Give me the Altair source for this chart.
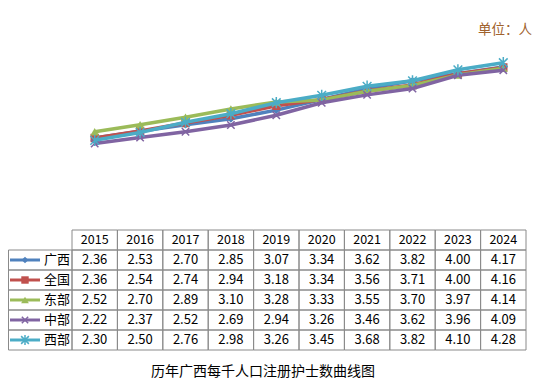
import altair as alt
import pandas as pd

years = [2015, 2016, 2017, 2018, 2019, 2020, 2021, 2022, 2023, 2024]
series = ["广西", "全国", "东部", "中部", "西部"]
guangxi = [2.36, 2.53, 2.70, 2.85, 3.07, 3.34, 3.62, 3.82, 4.00, 4.17]
quanguo = [2.36, 2.54, 2.74, 2.94, 3.18, 3.34, 3.56, 3.71, 4.00, 4.16]
dongbu = [2.52, 2.70, 2.89, 3.10, 3.28, 3.33, 3.55, 3.70, 3.97, 4.14]
zhongbu = [2.22, 2.37, 2.52, 2.69, 2.94, 3.26, 3.46, 3.62, 3.96, 4.09]
xibu = [2.30, 2.50, 2.76, 2.98, 3.26, 3.45, 3.68, 3.82, 4.10, 4.28]
all_values = [guangxi, quanguo, dongbu, zhongbu, xibu]

colors = ["#4F81BD", "#C0504D", "#9BBB59", "#8064A2", "#4BACC6"]
X_PATH = "M-1,-1L1,1M-1,1L1,-1"
AST_PATH = "M-1,-1L1,1M-1,1L1,-1M0,-1.3L0,1.3"
shapes = ["diamond", "square", "triangle-up", X_PATH, AST_PATH]
filled = [True, True, True, False, False]
sizes = [45, 55, 60, 40, 60]

title_text = "历年广西每千人口注册护士数曲线图"
unit_text = "单位：人"

FONT = "Noto Sans CJK SC"
GRID = "#8a8a8a"

rows = []
for i, (s, vals) in enumerate(zip(series, all_values)):
    for y, v in zip(years, vals):
        rows.append({"series": s, "year": y, "value": v, "row": i + 1})
df = pd.DataFrame(rows)

cells = pd.DataFrame([{"row": r, "year": y} for r in range(6) for y in years])
label_rows = pd.DataFrame({"series": series, "row": list(range(1, 6))})
header = pd.DataFrame({"year": years, "row": [0] * len(years)})

XS = alt.Scale(domain=[2014.5, 2024.5], range=[64, 518], nice=False, zero=False)
YV = alt.Scale(domain=[0, 5], range=[222.5, 26.5], nice=False, zero=False)
YT = alt.Scale(domain=[0, 6], range=[222, 342], nice=False, zero=False)

layers = []

# grid cells for years
layers.append(
    alt.Chart(cells)
    .transform_calculate(x0="datum.year - 0.5", x1="datum.year + 0.5",
                         r0="datum.row", r1="datum.row + 1")
    .mark_rect(fillOpacity=0, stroke=GRID, strokeWidth=1)
    .encode(x=alt.X("x0:Q", scale=XS, axis=None), x2="x1:Q",
            y=alt.Y("r0:Q", scale=YT, axis=None), y2="r1:Q")
)
# label column cells
layers.append(
    alt.Chart(label_rows)
    .transform_calculate(r0="datum.row", r1="datum.row + 1")
    .mark_rect(fillOpacity=0, stroke=GRID, strokeWidth=1)
    .encode(x=alt.value(0.5), x2=alt.value(64),
            y=alt.Y("r0:Q", scale=YT, axis=None), y2="r1:Q")
)
# header text
layers.append(
    alt.Chart(header)
    .transform_calculate(rc="datum.row + 0.5")
    .mark_text(font=FONT, fontSize=12.5, baseline="middle", color="#000")
    .encode(x=alt.X("year:Q", scale=XS, axis=None),
            y=alt.Y("rc:Q", scale=YT, axis=None), text="year:N")
)
# value text
layers.append(
    alt.Chart(df)
    .transform_calculate(rc="datum.row + 0.5")
    .mark_text(font=FONT, fontSize=13, baseline="middle", color="#000")
    .encode(x=alt.X("year:Q", scale=XS, axis=None),
            y=alt.Y("rc:Q", scale=YT, axis=None),
            text=alt.Text("value:Q", format=".2f"))
)
# row labels
layers.append(
    alt.Chart(label_rows)
    .transform_calculate(rc="datum.row + 0.5")
    .mark_text(font=FONT, fontSize=13, baseline="middle", align="center", color="#000")
    .encode(x=alt.value(49), y=alt.Y("rc:Q", scale=YT, axis=None), text="series:N")
)
# legend keys inside table
for i, s in enumerate(series):
    key = label_rows[label_rows.series == s]
    base = alt.Chart(key).transform_calculate(rc="datum.row + 0.5")
    layers.append(
        base.mark_rule(color=colors[i], strokeWidth=3)
        .encode(x=alt.value(2), x2=alt.value(32), y=alt.Y("rc:Q", scale=YT, axis=None))
    )
    layers.append(
        base.mark_point(shape=shapes[i], filled=filled[i], color=colors[i],
                        size=sizes[i], opacity=1, strokeWidth=1.5 if not filled[i] else 1)
        .encode(x=alt.value(17), y=alt.Y("rc:Q", scale=YT, axis=None))
    )

# series lines and markers
for i, s in enumerate(series):
    base = alt.Chart(df[df.series == s]).encode(
        x=alt.X("year:Q", scale=XS, axis=None),
        y=alt.Y("value:Q", scale=YV, axis=None),
    )
    layers.append(base.mark_line(color=colors[i], strokeWidth=3.5))
    layers.append(
        base.mark_point(shape=shapes[i], filled=filled[i], color=colors[i],
                        size=sizes[i] + 15, opacity=1,
                        strokeWidth=1.5 if not filled[i] else 1)
    )

# unit label
layers.append(
    alt.Chart(pd.DataFrame({"t": [unit_text]}))
    .mark_text(font=FONT, fontSize=13.5, align="center", baseline="middle", color="#A0622D")
    .encode(x=alt.value(497), y=alt.value(22), text="t:N")
)
# bottom title
layers.append(
    alt.Chart(pd.DataFrame({"t": [title_text]}))
    .mark_text(font=FONT, fontSize=14, align="center", baseline="middle", color="#000")
    .encode(x=alt.value(255), y=alt.value(364), text="t:N")
)

chart = (
    alt.layer(*layers)
    .resolve_scale(y="independent")
    .properties(width=543, height=373, autosize=alt.AutoSizeParams(type="none"), padding=0)
    .configure_view(stroke=None)
)

chart.save("out.html", embed_options={"renderer": "svg", "actions": False})
